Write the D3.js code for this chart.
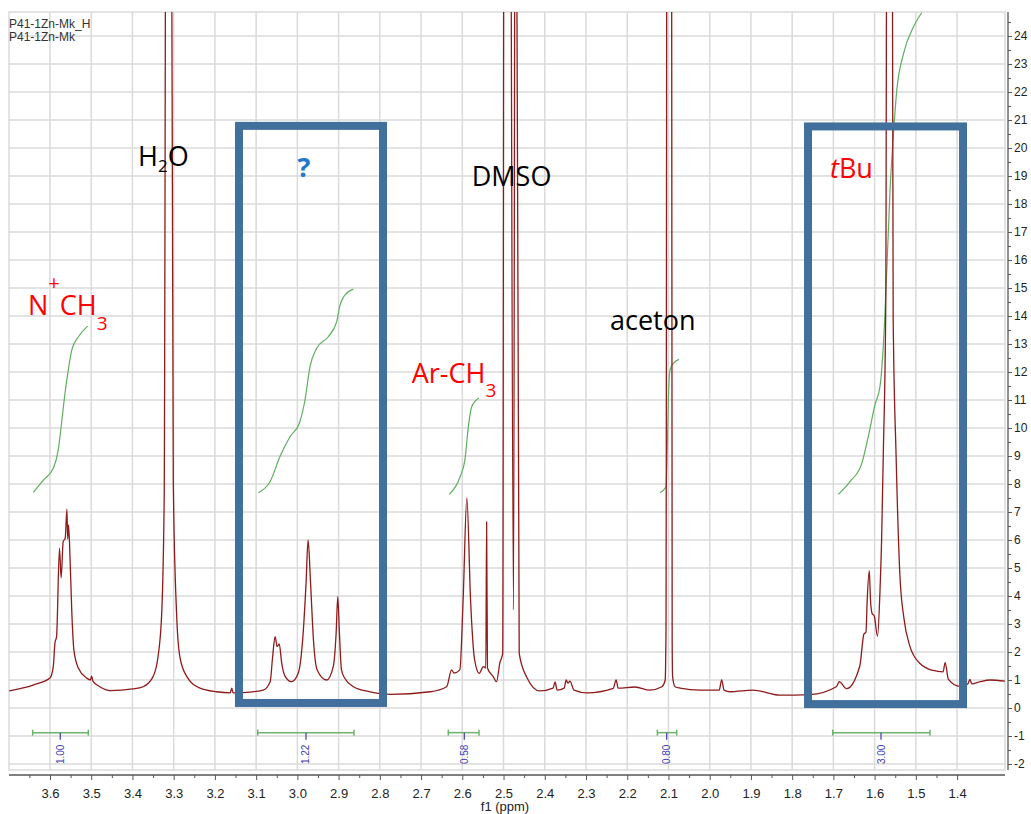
<!DOCTYPE html>
<html>
<head>
<meta charset="utf-8">
<script src="https://cdn.jsdelivr.net/npm/d3@7"></script>
<style>
  body { margin: 0; background: #fff; }
  svg { display: block; }
</style>
</head>
<body>
<div id="chart"></div>
<script>
// spectrum trace: [ppm, intensity]
const spectrum = [
  [3.699,0.61],[3.641,0.82],[3.600,1.07],[3.592,1.48],[3.588,2.32],[3.584,2.55],[3.577,5.71],[3.573,4.65],
  [3.568,5.94],[3.563,6.07],[3.559,7.10],[3.557,6.04],[3.555,6.54],[3.551,5.18],[3.547,3.39],[3.542,2.07],
  [3.531,1.42],[3.511,1.07],[3.502,1.00],[3.499,1.14],[3.496,0.96],[3.479,0.76],[3.454,0.62],[3.399,0.68],
  [3.374,0.76],[3.350,1.12],[3.338,1.83],[3.329,3.39],[3.323,7.55],[3.3174,40],[3.3077,40],[3.301,8.14],
  [3.293,3.39],[3.285,1.83],[3.268,1.12],[3.236,0.71],[3.196,0.58],[3.163,0.54],[3.159,0.71],[3.156,0.54],
  [3.131,0.55],[3.083,0.64],[3.066,0.94],[3.060,1.83],[3.054,2.55],[3.049,2.19],[3.044,2.29],[3.038,1.60],
  [3.030,1.14],[3.014,0.94],[2.998,1.24],[2.986,2.67],[2.979,4.45],[2.974,6.0],[2.968,4.45],[2.961,2.43],
  [2.952,1.36],[2.929,1.0],[2.913,1.48],[2.906,2.67],[2.902,3.98],[2.898,2.67],[2.893,1.36],[2.885,1.06],
  [2.864,0.76],[2.824,0.58],[2.808,0.53],[2.775,0.49],[2.678,0.58],[2.638,0.76],[2.626,1.36],[2.620,1.25],
  [2.606,1.36],[2.598,3.86],[2.589,7.5],[2.580,3.86],[2.570,1.71],[2.559,1.24],[2.549,1.48],[2.543,1.43],
  [2.541,6.65],[2.539,1.43],[2.525,1.12],[2.517,0.94],[2.509,1.61],[2.502,1.95],[2.4981,40],[2.4928,25],
  [2.4855,40],[2.4758,3.5],[2.4710,40],[2.462,1.95],[2.444,1.11],[2.412,0.61],[2.380,0.71],[2.375,0.93],
  [2.370,0.64],[2.353,0.71],[2.348,1.0],[2.344,0.89],[2.339,0.96],[2.329,0.64],[2.298,0.54],[2.234,0.70],
  [2.227,1.0],[2.222,0.71],[2.181,0.75],[2.145,0.64],[2.116,0.76],[2.108,1.0],[2.106,2.79],[2.103,40],
  [2.098,30],[2.093,40],[2.091,2.32],[2.090,1.12],[2.084,0.76],[2.072,0.71],[2.023,0.64],[1.977,0.64],
  [1.971,1.0],[1.965,0.64],[1.951,0.58],[1.895,0.64],[1.830,0.46],[1.757,0.48],[1.692,0.77],[1.686,0.94],
  [1.668,0.69],[1.636,1.5],[1.626,2.64],[1.621,2.71],[1.618,3.86],[1.613,4.91],[1.610,3.86],[1.606,3.37],
  [1.601,3.29],[1.593,2.56],[1.587,4.18],[1.583,6.05],[1.579,9.05],[1.573,14.41],[1.569,40],[1.559,40],
  [1.555,13.93],[1.548,9.05],[1.539,4.83],[1.529,3.21],[1.515,2.23],[1.490,1.59],[1.458,1.34],[1.434,1.29],
  [1.429,1.62],[1.421,1.02],[1.393,0.77],[1.374,0.86],[1.369,1.02],[1.364,0.86],[1.344,0.94],[1.320,1.0],
  [1.284,0.96]
];

// integral curves
const intNCH3 = [[3.6405,7.70],[3.616,8.14],[3.592,8.56],[3.580,9.21],[3.572,10.17],[3.5636,11.24],
  [3.5556,12.07],[3.547,12.79],[3.531,13.26],[3.5086,13.64]];
const intUnknown = [[3.0948,7.69],[3.0664,8.08],[3.0422,8.98],[3.0179,9.69],[2.9953,10.17],[2.9815,11.0],
  [2.9694,12.19],[2.9531,12.85],[2.925,13.26],[2.9046,13.80],[2.8966,14.39],[2.8845,14.75],[2.8644,14.96]];
const intArCH3 = [[2.6315,7.63],[2.6056,8.25],[2.5934,8.89],[2.5854,10.04],[2.5772,10.76],[2.5595,11.07]];
const intAceton = [[2.1205,7.69],[2.1059,7.90],[2.1028,9.21],[2.1003,11.0],[2.0962,12.07],[2.0882,12.31],[2.0744,12.45]];
const intTBu = [[1.688,7.63],[1.6602,8.08],[1.6313,8.73],[1.6153,9.70],[1.599,10.84],[1.5869,11.49],
  [1.5789,12.95],[1.5707,15.55],[1.5627,18.46],[1.5547,20.41],[1.5464,22.04],[1.5304,23.34],[1.5062,24.31],[1.486,24.83]];

// integration ranges
const integralFrom = [3.642, 3.0962, 2.634, 2.127, 1.7016];
const integralTo = [3.5071, 2.8627, 2.5595, 2.080, 1.4656];
const integralMid = [3.575, 2.9791, 2.5951, 2.1043, 1.5845];
const integralLabels = ["1.00", "1.22", "0.58", "0.80", "3.00"];

const xTicks = d3.range(14, 37).map(d => d / 10);
const yTicks = d3.range(-2, 25);

const width = 1031, height = 814;
const pLeft = 9, pRight = 1005, pTop = 12, pBottom = 770;
const annoFont = "'Open Sans', 'Liberation Sans', sans-serif";
const axisFont = "'Liberation Sans', Arial, sans-serif";

const x = d3.scaleLinear().domain([3.6994, 1.2838]).range([pLeft, pRight]);
const y = d3.scaleLinear().domain([-2.214, 24.857]).range([pBottom, pTop]);

const svg = d3.select("#chart").append("svg")
  .attr("width", width).attr("height", height);

svg.append("defs").append("clipPath").attr("id", "plotclip")
  .append("rect").attr("x", pLeft).attr("y", pTop)
  .attr("width", pRight - pLeft).attr("height", pBottom - pTop);

// grid
const grid = svg.append("g").attr("stroke", "#dadada").attr("stroke-width", 1.5);
grid.selectAll(".vg").data(xTicks).enter().append("line")
  .attr("x1", d => x(d)).attr("x2", d => x(d)).attr("y1", pTop).attr("y2", pBottom);
grid.selectAll(".hg").data(yTicks).enter().append("line")
  .attr("x1", pLeft).attr("x2", pRight).attr("y1", d => y(d)).attr("y2", d => y(d));
grid.append("rect").attr("x", pLeft).attr("y", pTop)
  .attr("width", pRight - pLeft).attr("height", pBottom - pTop).attr("fill", "none");

// bottom axis
const axisX = svg.append("g").attr("transform", `translate(0, 775)`)
  .call(d3.axisBottom(x).tickValues(xTicks).tickSize(5).tickFormat(d3.format(".1f")));
svg.append("g").attr("transform", `translate(0, 775)`)
  .call(d3.axisBottom(x).tickValues(xTicks.map(d => d + 0.05).filter(d => d < 3.69)).tickSize(3).tickFormat(""))
  .select(".domain").remove();
axisX.select(".domain").attr("d", `M${pLeft},0H${pRight}`);
svg.selectAll(".tick line").attr("stroke", "#555");
axisX.selectAll("text").attr("font-family", axisFont).attr("font-size", 13)
  .attr("fill", "#222").attr("dy", "1.15em");
axisX.select(".domain").attr("stroke", "#555").attr("stroke-width", 1.3);

svg.append("text").attr("x", 505).attr("y", 811).attr("text-anchor", "middle")
  .attr("font-family", axisFont).attr("font-size", 13).attr("fill", "#222").text("f1 (ppm)");

// right axis
const axisY = svg.append("g").attr("transform", `translate(1008, 0)`)
  .call(d3.axisRight(y).tickValues(yTicks).tickSize(4).tickFormat(d => d < 0 ? "-" + Math.abs(d) : d));
svg.append("g").attr("transform", `translate(1008, 0)`)
  .call(d3.axisRight(y).tickValues(yTicks.map(d => d + 0.5).filter(d => d < 24.8)).tickSize(3).tickFormat(""))
  .call(g => g.select(".domain").remove())
  .selectAll("line").attr("stroke", "#555");
axisY.select(".domain").attr("d", `M0,${pTop}V${pBottom}`).attr("stroke", "#555").attr("stroke-width", 1.3);
axisY.selectAll("line").attr("stroke", "#555");
axisY.selectAll("text").attr("font-family", axisFont).attr("font-size", 12).attr("fill", "#222").attr("x", 6);

// sample names
svg.append("text").attr("x", 9).attr("y", 28).attr("font-family", axisFont)
  .attr("font-size", 12).attr("fill", "#333").text("P41-1Zn-Mk_H");
svg.append("text").attr("x", 9).attr("y", 41).attr("font-family", axisFont)
  .attr("font-size", 12).attr("fill", "#333").text("P41-1Zn-Mk");

const plot = svg.append("g").attr("clip-path", "url(#plotclip)");

// integral curves
const line = d3.line().curve(d3.curveMonotoneX).x(d => x(d[0])).y(d => y(d[1]));
[intNCH3, intUnknown, intArCH3, intAceton, intTBu].forEach(c => {
  plot.append("path").attr("d", line(c)).attr("fill", "none")
    .attr("stroke", "#5fae5f").attr("stroke-width", 1.2);
});

// spectrum
plot.append("path").attr("d", line(spectrum)).attr("fill", "none")
  .attr("stroke", "#8e1b1b").attr("stroke-width", 1.3).attr("stroke-linejoin", "round");

// integration bars
const bars = svg.append("g");
integralLabels.forEach((lab, i) => {
  const x0 = x(integralFrom[i]), x1 = x(integralTo[i]), xm = x(integralMid[i]), yb = y(-0.88);
  bars.append("line").attr("x1", x0).attr("x2", x1).attr("y1", yb).attr("y2", yb)
    .attr("stroke", "#6cb46c").attr("stroke-width", 1.5);
  [x0, x1].forEach(xx => bars.append("line").attr("x1", xx).attr("x2", xx)
    .attr("y1", yb - 3).attr("y2", yb + 3).attr("stroke", "#6cb46c").attr("stroke-width", 1.5));
  bars.append("line").attr("x1", xm).attr("x2", xm).attr("y1", yb).attr("y2", yb + 7)
    .attr("stroke", "#4a4ab0").attr("stroke-width", 1.3);
  bars.append("text").attr("transform", `translate(${xm},${yb + 12}) rotate(-90)`)
    .attr("text-anchor", "end").attr("dy", "0.35em")
    .attr("font-family", axisFont).attr("font-size", 10).attr("fill", "#4040b0").text(lab);
});

// highlight boxes
const boxes = svg.append("g").attr("fill", "none").attr("stroke", "#41709c").attr("stroke-width", 8);
[[3.1416, 2.7923, 20.79, 0.18], [1.7615, 1.3856, 20.77, 0.14]].forEach(b => {
  boxes.append("rect").attr("x", x(b[0])).attr("y", y(b[2]))
    .attr("width", x(b[1]) - x(b[0])).attr("height", y(b[3]) - y(b[2]));
});

// annotation labels
const anno = svg.append("g").attr("font-family", annoFont).attr("font-size", 27);
function label(ppm, val, fill, parts) {
  const t = anno.append("text").attr("x", x(ppm)).attr("y", y(val)).attr("fill", fill);
  parts.forEach(p => {
    const s = t.append("tspan").text(p.t);
    if (p.dy) s.attr("dy", p.dy);
    if (p.dx) s.attr("dx", p.dx);
    if (p.size) s.attr("font-size", p.size);
    if (p.italic) s.attr("font-style", "italic");
  });
  return t;
}
label(3.3866, 19.36, "#000", [{ t: "H" }, { t: "2", dy: 6, size: 17 }, { t: "O", dy: -6 }]);
label(2.5772, 18.64, "#000", [{ t: "DMSO" }]);
label(2.2418, 13.5, "#000", [{ t: "aceton" }]);
label(3.6534, 14.04, "#ff0000", [{ t: "N" }, { t: "+", dy: -25, size: 20 }, { t: "CH", dy: 25 }, { t: "3", dy: 15, size: 19 }]);
label(2.7227, 11.61, "#ff0000", [{ t: "Ar-CH" }, { t: "3", dy: 14, size: 19 }]);
label(1.7082, 18.93, "#ff0000", [{ t: "t", italic: true }, { t: "Bu" }]);
label(2.9839, 18.96, "#1f78c8", [{ t: "?" }]).attr("text-anchor", "middle").attr("font-weight", "bold");
</script>
</body>
</html>
